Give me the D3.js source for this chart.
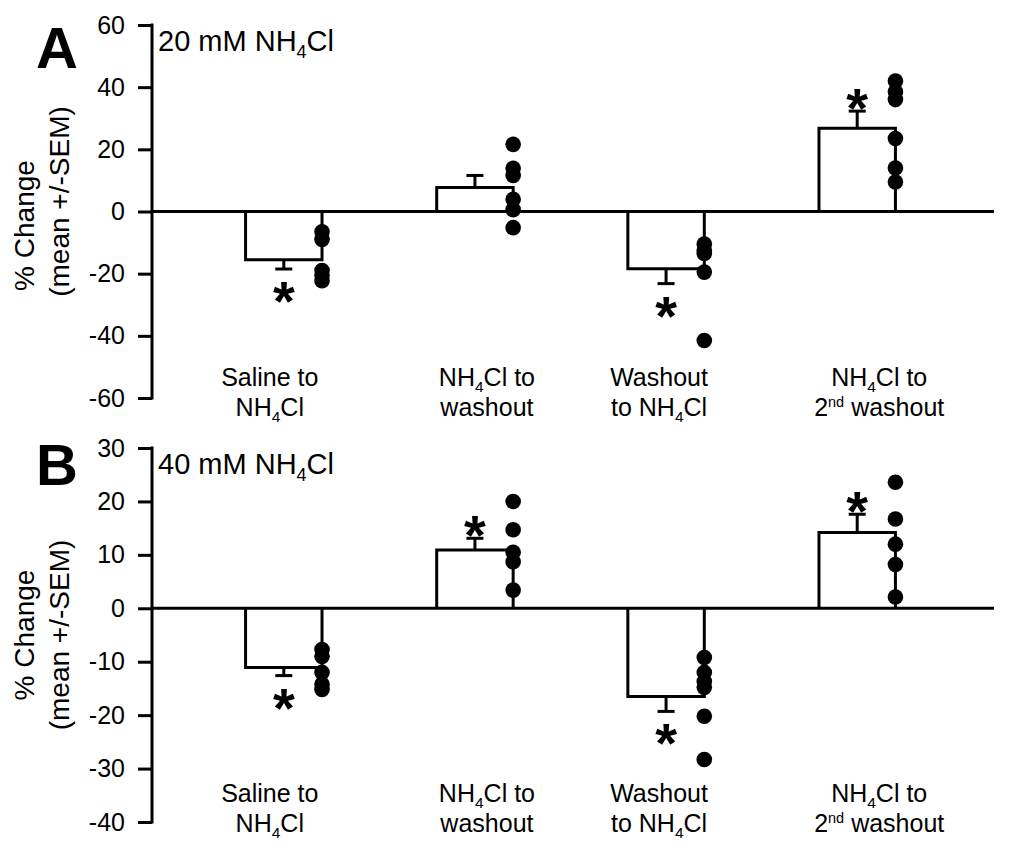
<!DOCTYPE html>
<html>
<head>
<meta charset="utf-8">
<script src="https://cdn.jsdelivr.net/npm/d3@7"></script>
<style>
  body { margin: 0; background: #fff; }
  svg { display: block; font-family: "Liberation Sans", Arial, sans-serif; }
</style>
</head>
<body>
<script>
// categories ("_" = subscript, "^" = superscript, "|" = line break)
var categories = ["Saline to|NH_4Cl", "NH_4Cl to|washout", "Washout|to NH_4Cl", "NH_4Cl to|2^nd washout"];

// panel A: 20 mM
var meansA = [-15.5, 7.7, -18.4, 26.8];
var semA = [3.0, 3.9, 4.8, 5.5];
var starsA = [true, false, true, true];
var pointsA = [
    [-6.5, -9, -19, -20.5, -22.3],
    [21.6, 13.9, 11.6, 3.9, 0.6, -5.2],
    [-10.5, -12.5, -13.5, -19.5, -41.5],
    [42, 38.5, 36, 23.5, 14, 9.5]
];
var ticksA = [-60, -40, -20, 0, 20, 40, 60];

// panel B: 40 mM
var meansB = [-11.1, 10.9, -16.5, 14.2];
var semB = [1.5, 2.2, 2.8, 3.4];
var starsB = [true, true, true, true];
var pointsB = [
    [-7.7, -9.0, -12.0, -14.2, -15.2],
    [20, 14.7, 10.5, 8.7, 3.4],
    [-9.2, -12, -13.7, -14.8, -20.2, -28.3],
    [23.6, 16.7, 12, 8.2, 2.1]
];
var ticksB = [-40, -30, -20, -10, 0, 10, 20, 30];

var width = 1015, height = 846;
var axisX = 152;
var labelDx = [-14, 12, -7, 22];   // small nudges of the category labels

var svg = d3.select("body").append("svg")
    .attr("width", width)
    .attr("height", height);

var xScale = d3.scaleBand()
    .domain(d3.range(categories.length))
    .range([150, 991])
    .paddingInner(0.6)
    .paddingOuter(0.5);

// writes a string with _sub and ^sup parts into a text element
function rich(sel, str, size) {
    var parts = str.split(/(_\w|\^\w+)/).filter(function(s) { return s.length; });
    var shift = 0;
    parts.forEach(function(p) {
        var target = 0, fs = size, t = p;
        if (p[0] === "_") { target = size * 0.24; fs = size * 0.62; t = p.slice(1); }
        else if (p[0] === "^") { target = -size * 0.36; fs = size * 0.58; t = p.slice(1); }
        sel.append("tspan").attr("dy", target - shift).attr("font-size", fs).text(t);
        shift = target;
    });
}

function drawPanel(p) {
    var yScale = d3.scaleLinear().domain(p.domain).range([p.bottom, p.top]);
    var g = svg.append("g");
    var y0 = yScale(0);

    // y axis
    g.append("g")
        .attr("transform", "translate(" + axisX + ",0)")
        .call(d3.axisLeft(yScale).tickValues(p.ticks).tickSize(14).tickSizeOuter(0).tickPadding(13)
            .tickFormat(function(d) { return String(d); }))
        .call(function(a) {
            a.select(".domain").attr("stroke-width", 3).attr("d", "M0," + (p.top - 1.5) + "V" + (p.bottom + 1.5));
            a.selectAll(".tick line").attr("stroke-width", 3);
            a.selectAll(".tick text").attr("font-size", 25).attr("fill", "#000").attr("font-family", null);
        });

    // zero line
    g.append("line")
        .attr("x1", axisX).attr("x2", 994)
        .attr("y1", y0).attr("y2", y0)
        .attr("stroke", "#000").attr("stroke-width", 3);

    // open bars
    g.selectAll(".bar").data(p.means).enter().append("path")
        .attr("class", "bar")
        .attr("fill", "none").attr("stroke", "#000").attr("stroke-width", 3)
        .attr("d", function(d, i) {
            var x0 = xScale(i), x1 = xScale(i) + xScale.bandwidth();
            return "M" + x0 + "," + y0 + "V" + yScale(d) + "H" + x1 + "V" + y0;
        });

    // error bars
    var err = g.selectAll(".err").data(p.means).enter().append("g").attr("class", "err");
    function cx(i) { return xScale(i) + xScale.bandwidth() / 2; }
    function tip(d, i) { return d + (d < 0 ? -1 : 1) * p.sem[i]; }
    err.append("line")
        .attr("x1", function(d, i) { return cx(i); })
        .attr("x2", function(d, i) { return cx(i); })
        .attr("y1", function(d) { return yScale(d); })
        .attr("y2", function(d, i) { return yScale(tip(d, i)); })
        .attr("stroke", "#000").attr("stroke-width", 3);
    err.append("line")
        .attr("x1", function(d, i) { return cx(i) - 8.5; })
        .attr("x2", function(d, i) { return cx(i) + 8.5; })
        .attr("y1", function(d, i) { return yScale(tip(d, i)); })
        .attr("y2", function(d, i) { return yScale(tip(d, i)); })
        .attr("stroke", "#000").attr("stroke-width", 3);

    // significance stars
    var starSize = 56;
    var starred = d3.range(p.means.length).filter(function(i) { return p.stars[i]; });
    g.selectAll(".star").data(starred)
        .enter().append("text")
        .attr("class", "star")
        .attr("text-anchor", "middle")
        .attr("font-weight", "bold")
        .attr("font-size", starSize)
        .attr("x", function(i) { return cx(i); })
        .attr("y", function(i) {
            var d = p.means[i];
            var c = yScale(tip(d, i)) + (d < 0 ? 19 : -16);
            return c + 0.57 * starSize;
        })
        .text("*");

    // individual points on the right edge of each bar
    p.points.forEach(function(pts, i) {
        g.selectAll(".pt" + i).data(pts).enter().append("circle")
            .attr("cx", xScale(i) + xScale.bandwidth())
            .attr("cy", function(d) { return yScale(d); })
            .attr("r", 7.8)
            .attr("fill", "#000");
    });

    // category labels
    categories.forEach(function(c, i) {
        c.split("|").forEach(function(line, k) {
            var t = g.append("text")
                .attr("text-anchor", "middle")
                .attr("font-size", 25)
                .attr("x", cx(i) + labelDx[i])
                .attr("y", p.labelY + k * 30);
            rich(t, line, 25);
        });
    });

    // y axis title
    var mid = (p.top + p.bottom) / 2;
    ["% Change", "(mean +/-SEM)"].forEach(function(s, k) {
        g.append("text")
            .attr("transform", "translate(" + (34 + k * 35) + "," + (mid + p.titleDy[k]) + ") rotate(-90)")
            .attr("text-anchor", "middle")
            .attr("font-size", 28)
            .text(s);
    });

    // panel letter and condition
    g.append("text")
        .attr("x", 36).attr("y", p.letterY)
        .attr("font-size", 58).attr("font-weight", "bold")
        .text(p.letter);
    var cond = g.append("text")
        .attr("x", 158).attr("y", p.top + 26)
        .attr("font-size", 29);
    rich(cond, p.title, 29);
}

drawPanel({
    letter: "A", title: "20 mM NH_4Cl", letterY: 68,
    domain: [-60, 60], ticks: ticksA, top: 25, bottom: 398,
    means: meansA, sem: semA, stars: starsA, points: pointsA,
    labelY: 386, titleDy: [14, -10]
});

drawPanel({
    letter: "B", title: "40 mM NH_4Cl", letterY: 485,
    domain: [-40, 30], ticks: ticksB, top: 448, bottom: 822,
    means: meansB, sem: semB, stars: starsB, points: pointsB,
    labelY: 802, titleDy: [0, 0]
});
</script>
</body>
</html>
